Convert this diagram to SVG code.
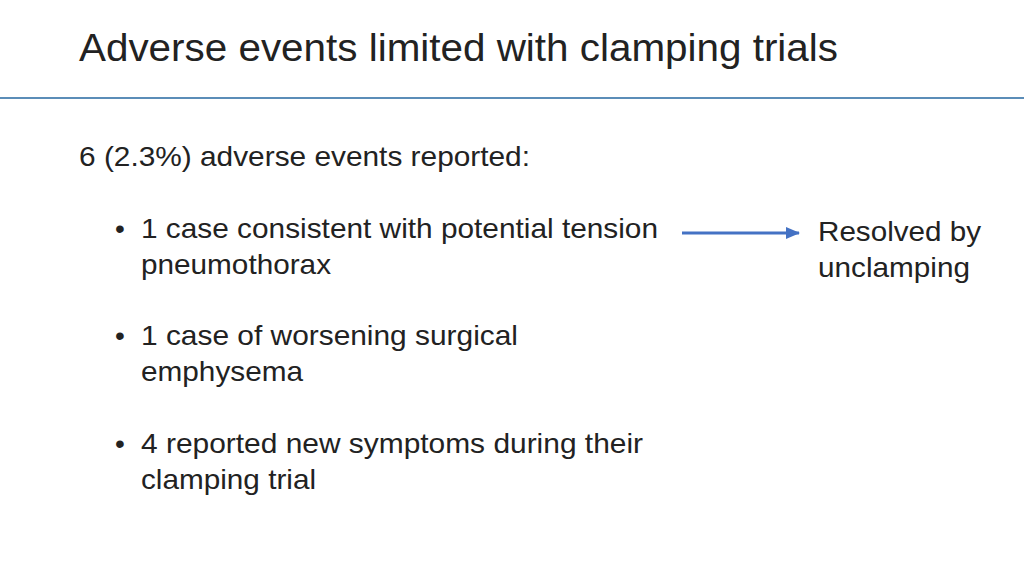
<svg xmlns="http://www.w3.org/2000/svg" width="1024" height="576" viewBox="0 0 1024 576">
<defs><marker id="ah" markerWidth="14" markerHeight="12" refX="13" refY="6" orient="auto" markerUnits="userSpaceOnUse"><path d="M0,0 L14,6 L0,12 z" fill="#4472C4"/></marker></defs>
<style>text{font-family:"Liberation Sans",Arial,sans-serif;fill:#222}.b{font-size:28px}</style>
<rect width="1024" height="576" fill="#fff"/>
<text x="79" y="61" font-size="38" textLength="759" lengthAdjust="spacingAndGlyphs">Adverse events limited with clamping trials</text>
<line x1="0" y1="98" x2="1024" y2="98" stroke="#5B8DB8" stroke-width="2"/>
<g id="body">
<text class="b" x="79" y="166" textLength="451" lengthAdjust="spacingAndGlyphs">6 (2.3%) adverse events reported:</text>
<text class="b" x="115" y="238">•</text>
<text class="b" x="141" y="238" textLength="517" lengthAdjust="spacingAndGlyphs">1 case consistent with potential tension</text>
<text class="b" x="141" y="274" textLength="190" lengthAdjust="spacingAndGlyphs">pneumothorax</text>
<text class="b" x="115" y="345">•</text>
<text class="b" x="141" y="345" textLength="377" lengthAdjust="spacingAndGlyphs">1 case of worsening surgical</text>
<text class="b" x="141" y="381" textLength="162" lengthAdjust="spacingAndGlyphs">emphysema</text>
<text class="b" x="115" y="453">•</text>
<text class="b" x="141" y="453" textLength="502" lengthAdjust="spacingAndGlyphs">4 reported new symptoms during their</text>
<text class="b" x="141" y="489" textLength="175" lengthAdjust="spacingAndGlyphs">clamping trial</text>
</g>
<g id="result"><text class="b" x="818" y="241" textLength="163" lengthAdjust="spacingAndGlyphs">Resolved by</text><text class="b" x="818" y="277" textLength="152" lengthAdjust="spacingAndGlyphs">unclamping</text></g>
<g id="connectors"><line x1="682" y1="233" x2="799" y2="233" stroke="#4472C4" stroke-width="3" marker-end="url(#ah)"/></g>
</svg>
